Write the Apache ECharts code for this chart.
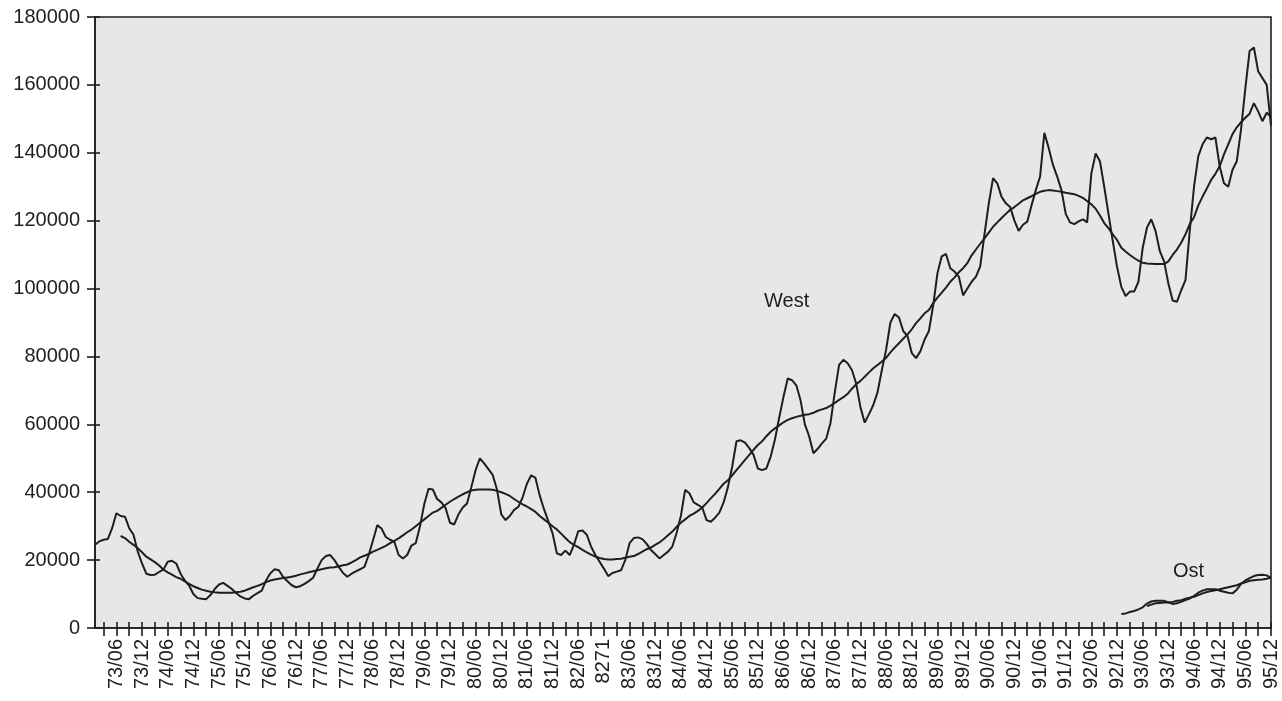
<!DOCTYPE html>
<html>
<head>
<meta charset="utf-8">
<script src="https://cdn.jsdelivr.net/npm/echarts@6/dist/echarts.min.js"></script>
<style>
  html, body { margin: 0; padding: 0; background: #ffffff; }
  #chart { width: 1282px; height: 701px; }
</style>
</head>
<body>
<div id="chart"></div>
<script>
// Monthly series, January 1973 to December 1995
const firstYear = 73;
const lastYear = 95;

// West: monthly values (one row per year)
const westMonthly = [
  24500, 25500, 26000, 26200, 29400, 33800, 33000, 32800, 29400, 27500, 22500, 19000,
  16000, 15600, 15700, 16500, 17200, 19500, 19800, 19000, 16000, 14000, 12500, 10000,
  8800, 8600, 8500, 9700, 11500, 12800, 13300, 12400, 11500, 10300, 9300, 8700,
  8500, 9500, 10300, 11000, 14000, 16100, 17300, 17000, 15000, 13800, 12600, 12000,
  12300, 13000, 13800, 14800, 17500, 20000, 21200, 21500, 20000, 18000, 16200, 15100,
  16000, 16700, 17300, 18000, 21500, 25800, 30300, 29300, 26800, 26000, 25400, 21500,
  20500, 21500, 24300, 25000, 30000, 36500, 41000, 40800, 38000, 37000, 35300, 31000,
  30500, 33500, 35500, 36700, 41500, 46500, 50000, 48500, 46800, 45100, 40800, 33500,
  31800, 33000, 34800, 35700, 38500, 42500, 45000, 44200, 39000, 35000, 31500, 27900,
  22000, 21500, 22800, 21500, 24500, 28500, 28700, 27500, 24000, 21500, 19500, 17500,
  15300, 16200, 16600, 17000, 20000, 25000, 26500, 26700, 26200, 24800, 23000, 21800,
  20500, 21500, 22500, 24000, 28000, 33000, 40700, 39700, 37000, 36300, 35500, 31800,
  31300, 32500, 34000, 37000, 41500, 47500, 55000, 55300, 54600, 53000, 51000, 47000,
  46500, 47000, 50500, 55500, 62000, 68100, 73500, 73000, 71500, 67000, 60000, 56500,
  51500, 52800, 54400, 55800, 60500, 69500, 77500, 79000, 78000, 76000, 72000, 65000,
  60500, 63000, 65700, 69500, 76000, 82000, 90000, 92500, 91500, 87500, 86000, 81000,
  79500, 81500, 85000, 87500, 95000, 104500, 109500, 110200, 106000, 105000, 103500, 98000,
  100000, 102000, 103500, 106500, 116000, 125000, 132500, 131000, 127000, 125100, 124000, 120000,
  117000, 118800, 119700, 124500, 129000, 133000, 145900, 141500, 136500, 133000, 129000, 122000,
  119500, 119000, 119800, 120400, 119500, 134000, 139800, 137500, 130000, 122000, 114000, 106400,
  100500, 97800, 99100, 99100, 102000, 112000, 118000, 120400, 117000, 111000, 108000, 101500,
  96500, 96100, 99500, 102500, 117000, 130000, 139000, 142500, 144500, 144000, 144500, 136000,
  131000, 130000, 135000, 137500, 147000, 159000, 170000, 171000, 164000, 162000, 160000, 148000
];

// West: smoothed trend, from July 1973
const westTrendStart = '73/07';
const westTrend = [
  27100, 26500, 25400, 24500, 23500, 22300,
  21000, 20200, 19400, 18400, 17200, 16400, 15700, 15000, 14500, 13700, 13000, 12300,
  11800, 11300, 11000, 10700, 10500, 10400, 10400, 10400, 10400, 10500, 10700, 11000,
  11500, 12000, 12400, 12900, 13500, 14000, 14300, 14500, 14700, 14900, 15100, 15400,
  15800, 16100, 16400, 16700, 17000, 17300, 17600, 17800, 17900, 18200, 18500, 18700,
  19300, 20000, 20800, 21300, 21800, 22500, 23000, 23600, 24200, 25000, 25700, 26400,
  27300, 28200, 29000, 30000, 31000, 32000, 33000, 34000, 34500, 35400, 36300, 37200,
  38000, 38700, 39400, 40000, 40500, 40700, 40800, 40800, 40800, 40700, 40400, 40000,
  39500, 38900, 38000, 37200, 36400, 35800, 35000, 34200, 33000, 32000, 31000, 30000,
  29000, 27800, 26500, 25300, 24500, 23800, 23000, 22300, 21600, 21000, 20600, 20300,
  20200, 20200, 20300, 20400, 20700, 21000, 21200, 21800, 22500, 23200, 23700, 24500,
  25200, 26200, 27300, 28400, 29800, 31000, 32000, 33000, 33700, 34500, 35500, 36800,
  38200, 39500, 41000, 42500, 43500, 45000, 46500, 48000, 49500, 51000, 52500, 53900,
  55000, 56500, 57800, 58800, 59700, 60600, 61300, 61800, 62200, 62500, 62800, 63000,
  63400, 64000, 64400, 64800, 65500, 66300, 67200, 68000, 69000, 70500, 71800, 72800,
  74000, 75300, 76500, 77500, 78500, 79600, 81200, 82600, 83900, 85200, 86500, 88000,
  89800, 91200, 92700, 93700, 95700, 97300, 98800, 100300, 102000, 103300, 104800, 106000,
  107500, 109800, 111500, 113200, 114800, 116500, 118200, 119500, 120800, 122000, 123200, 124000,
  125000, 126000, 126600, 127200, 127900, 128500, 128800, 129000, 128900, 128700, 128500, 128200,
  128000, 127800, 127300, 126700, 125800, 124800, 123500, 121500, 119300, 117800, 116000, 114300,
  112000, 110900, 109900, 109000, 108200, 107600, 107400, 107300, 107200, 107200, 107200, 108000,
  109900, 111500, 113500, 116000, 119000, 121000, 124500, 127100, 129500, 132000, 133800, 136000,
  139500, 142500, 145500, 147500, 149000, 150300, 151500, 154600, 152200, 149300, 151800, 150600
];

// Ost: monthly values, from January 1993
const ostStart = '93/01';
const ostMonthly = [
  4100, 4300, 4700, 5000, 5500, 6100, 7200, 7800, 8000, 8000, 8000, 7600,
  7100, 7300, 7700, 8200, 8700, 9500, 10400, 11000, 11400, 11400, 11400, 11000,
  10700, 10400, 10200, 11300, 13000, 14000, 14700, 15300, 15600, 15700, 15500, 14800
];

// Ost: smoothed trend, from July 1993
const ostTrendStart = '93/07';
const ostTrend = [
  6500, 6900, 7300, 7400, 7500, 7500,
  7700, 8000, 8200, 8600, 8900, 9200, 9700, 10200, 10600, 10900, 11100, 11400,
  11700, 12000, 12300, 12600, 13100, 13500, 13900, 14100, 14200, 14300, 14500, 14900
];

// Axis settings
const yTicks = [0, 20000, 40000, 60000, 80000, 100000, 120000, 140000, 160000, 180000];
const labelMonths = ['06', '12'];
const tickMonths = ['03', '06', '09', '12'];
const labelOverrides = { '82/12': '8271' };
const seriesNames = { west: 'West', ost: 'Ost' };

// Month categories "yy/mm"
const months = [];
for (let y = firstYear; y <= lastYear; y++) {
  for (let m = 1; m <= 12; m++) {
    months.push(y + '/' + (m < 10 ? '0' + m : '' + m));
  }
}

// Place a partial series on the full month axis
function placeFrom(startLabel, values) {
  const start = months.indexOf(startLabel);
  return months.map((_, i) => (i >= start && i - start < values.length) ? values[i - start] : null);
}

const ink = '#1e1e1e';
const fontFamily = '"Liberation Sans", Arial, Helvetica, sans-serif';
const lineStyle = { color: ink, width: 2 };
const axisStroke = { color: ink, width: 1.6 };

const chart = echarts.init(document.getElementById('chart'), null, { renderer: 'canvas' });

const isTickMonth = (idx) => tickMonths.indexOf(months[idx].slice(3)) >= 0;
const isLabelMonth = (idx) => labelMonths.indexOf(months[idx].slice(3)) >= 0;

const yBase = {
  type: 'value',
  min: yTicks[0],
  max: yTicks[yTicks.length - 1],
  interval: yTicks[1] - yTicks[0],
  position: 'left',
  splitLine: { show: false }
};

chart.setOption({
  animation: false,
  backgroundColor: '#ffffff',
  grid: {
    left: 95,
    right: 11,
    top: 17,
    bottom: 73,
    show: true,
    backgroundColor: '#e6e7e9',
    borderColor: ink,
    borderWidth: 1.6
  },
  xAxis: [
    {
      type: 'category',
      data: months,
      boundaryGap: false,
      axisLine: { show: true, lineStyle: axisStroke },
      axisTick: {
        show: true,
        inside: false,
        length: 8,
        interval: (idx) => isTickMonth(idx),
        lineStyle: axisStroke
      },
      axisLabel: {
        show: true,
        interval: (idx) => isLabelMonth(idx),
        rotate: 90,
        margin: 11,
        fontSize: 20,
        color: ink,
        fontFamily: fontFamily,
        formatter: (v) => labelOverrides[v] || v
      },
      splitLine: { show: false }
    },
    {
      // upper half of the crossing month ticks
      type: 'category',
      data: months,
      boundaryGap: false,
      position: 'bottom',
      axisLine: { show: false },
      axisTick: {
        show: true,
        inside: true,
        length: 6,
        interval: (idx) => isTickMonth(idx),
        lineStyle: axisStroke
      },
      axisLabel: { show: false },
      splitLine: { show: false }
    }
  ],
  yAxis: [
    Object.assign({}, yBase, {
      axisLine: { show: true, lineStyle: axisStroke },
      axisTick: { show: true, inside: false, length: 8, lineStyle: axisStroke },
      axisLabel: {
        margin: 15,
        fontSize: 20,
        color: ink,
        fontFamily: fontFamily,
        formatter: (v) => String(v)
      }
    }),
    Object.assign({}, yBase, {
      // right-hand half of the crossing value ticks
      axisLine: { show: false },
      axisTick: { show: true, inside: true, length: 5, lineStyle: axisStroke },
      axisLabel: { show: false }
    })
  ],
  series: [
    {
      name: seriesNames.west,
      type: 'line',
      data: westMonthly,
      showSymbol: false,
      symbol: 'none',
      lineStyle: lineStyle,
      silent: true
    },
    {
      name: seriesNames.west + ' Trend',
      type: 'line',
      data: placeFrom(westTrendStart, westTrend),
      showSymbol: false,
      symbol: 'none',
      connectNulls: false,
      lineStyle: lineStyle,
      silent: true
    },
    {
      name: seriesNames.ost,
      type: 'line',
      data: placeFrom(ostStart, ostMonthly),
      showSymbol: false,
      symbol: 'none',
      connectNulls: false,
      lineStyle: lineStyle,
      silent: true
    },
    {
      name: seriesNames.ost + ' Trend',
      type: 'line',
      data: placeFrom(ostTrendStart, ostTrend),
      showSymbol: false,
      symbol: 'none',
      connectNulls: false,
      lineStyle: lineStyle,
      silent: true
    }
  ],
  graphic: [
    {
      type: 'text',
      left: 764,
      top: 291,
      style: { text: seriesNames.west, fontSize: 20, fill: ink, fontFamily: fontFamily }
    },
    {
      type: 'text',
      left: 1173,
      top: 561,
      style: { text: seriesNames.ost, fontSize: 20, fill: ink, fontFamily: fontFamily }
    }
  ]
});
</script>
</body>
</html>
